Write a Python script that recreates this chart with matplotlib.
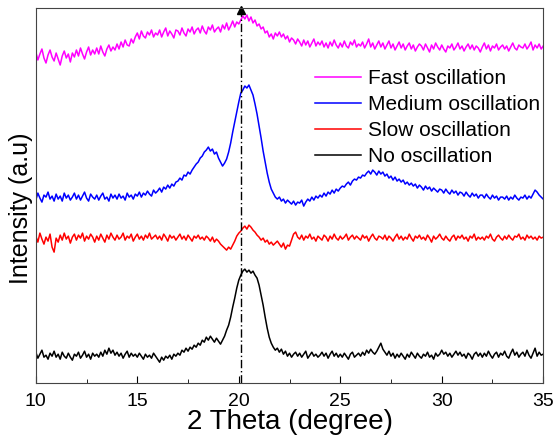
import numpy as np
import matplotlib
matplotlib.use('Agg')
import matplotlib.pyplot as plt
from matplotlib.ticker import MultipleLocator

plt.rcParams['font.family'] = ['Liberation Sans', 'DejaVu Sans']

# 2 theta grid (degree), 0.1 step; each row below = one degree (10.0 .. 10.9 etc.)
two_theta = np.arange(251) * 0.1 + 10.0

# intensities in arbitrary units (curves offset as in the figure)
fast = [
    331, 323, 329, 334, 325, 320, 328, 333, 326, 322,
    330, 324, 318, 327, 332, 325, 329, 321, 330, 326,
    333, 327, 335, 329, 324, 331, 336, 328, 333, 329,
    335, 329, 337, 331, 327, 334, 338, 332, 336, 333,
    339, 334, 341, 336, 343, 338, 337, 344, 340, 346,
    350, 344, 352, 347, 345, 351, 348, 353, 346, 350,
    348, 353, 346, 351, 355, 347, 352, 349, 345, 353,
    352, 348, 355, 350, 347, 354, 351, 356, 349, 353,
    355, 350, 357, 352, 349, 356, 353, 358, 351, 354,
    356, 351, 358, 354, 360, 353, 357, 362, 356, 361,
    359, 363, 367, 364, 368, 362, 366, 360, 363, 357,
    359, 354, 356, 350, 352, 346, 349, 344, 350, 347,
    351, 346, 349, 344, 347, 341, 345, 343, 339, 344,
    341, 337, 343, 338, 342, 336, 340, 344, 337, 341,
    338, 342, 336, 340, 335, 341, 337, 343, 338, 335,
    340, 336, 342, 337, 335, 341, 338, 343, 336, 339,
    337, 341, 335, 339, 344, 336, 340, 334, 338, 342,
    336, 340, 334, 338, 342, 335, 339, 333, 337, 341,
    335, 339, 333, 337, 340, 334, 338, 332, 336, 339,
    337, 333, 339, 335, 331, 338, 334, 340, 336, 333,
    338, 334, 331, 337, 335, 339, 333, 336, 340, 334,
    337, 332, 336, 339, 334, 338, 333, 337, 335, 331,
    336, 340, 334, 338, 332, 337, 335, 339, 333, 336,
    338, 334, 337, 332, 336, 340, 335, 333, 338, 336,
    335, 339, 334, 337, 341, 333, 338, 335, 339, 334,
    337]

medium = [
    183, 190, 185, 181, 188, 186, 191, 184, 187, 182,
    189, 184, 187, 182, 190, 185, 188, 183, 186, 190,
    184, 188, 183, 187, 191, 185, 182, 189, 186, 184,
    188, 183, 187, 190, 184, 186, 182, 189, 185, 188,
    184, 189, 185, 187, 183, 190, 186, 188, 184, 189,
    187, 191, 186, 190, 188, 192, 189, 187, 193, 190,
    192, 195, 191, 196, 194, 198, 195, 199, 197, 201,
    202, 205, 203, 208, 207, 211, 209, 213, 216, 219,
    221, 225, 227, 231, 233, 236, 232, 234, 229, 231,
    225, 221, 217, 220, 224, 231, 240, 251, 261, 271,
    281, 290, 293, 297, 295, 298, 293, 288, 279, 269,
    257, 245, 232, 221, 210, 201, 194, 190, 186, 184,
    186, 182, 184, 180, 183, 181, 179, 182, 178, 181,
    180, 183, 177, 181, 184, 182, 186, 183, 187, 185,
    188, 186, 190, 187, 191, 189, 193, 190, 194, 192,
    195, 197, 196, 199, 201, 198, 202, 204, 203, 206,
    205, 208, 207, 210, 212, 209, 213, 211, 208, 212,
    209, 211, 207, 209, 205, 207, 203, 206, 202, 204,
    201, 203, 199, 201, 198, 200, 197, 199, 195, 198,
    196, 193, 197, 194, 196, 192, 195, 193, 191, 194,
    193, 190, 194, 191, 189, 193, 190, 192, 188, 191,
    190, 187, 191, 188, 186, 190, 187, 189, 185, 188,
    188, 185, 189, 186, 184, 188, 185, 187, 183, 186,
    186, 184, 187, 183, 186, 184, 188, 185, 183, 186,
    185, 188, 184, 187, 185, 189, 193, 191, 188, 186,
    184]

slow = [
    147, 141, 150, 144, 139, 146, 142, 149, 136, 131,
    145, 141, 148, 143, 150, 144, 147, 140, 146, 149,
    143, 148, 145, 150, 142, 147, 144, 149, 146, 141,
    147, 143, 149, 145, 141, 148, 144, 150, 146, 143,
    148, 144, 146, 150, 143, 147, 145, 149, 142, 146,
    149, 144, 147, 143, 148, 145, 150, 144, 146, 148,
    144, 147, 143, 149, 146, 142, 148, 145, 147, 143,
    146, 149, 144, 147, 143, 148, 145, 142, 147, 145,
    148, 144, 146, 143, 147, 145, 142, 146, 141, 144,
    142, 139, 137, 135, 133, 136, 134, 138, 142, 147,
    150, 152, 155, 157, 154, 158, 156, 153, 151, 148,
    146, 143, 145, 141, 143, 139, 141, 138, 140, 142,
    139, 136, 140, 134, 138, 137, 143, 149, 151, 146,
    144, 148, 143, 147, 145, 149, 144, 146, 142, 147,
    145, 143, 148, 146, 142, 147, 144, 149, 145, 143,
    147, 144, 146, 149, 143, 146, 148, 144, 147, 145,
    143, 148, 145, 147, 142, 146, 149, 145, 143, 147,
    146, 144, 148, 143, 147, 145, 142, 146, 149, 144,
    147, 143, 146, 144, 149, 145, 142, 147, 145, 148,
    144, 146, 143, 148, 145, 141, 147, 144, 146, 149,
    145, 143, 147, 144, 142, 146, 148, 143, 147, 145,
    148, 144, 146, 142, 147, 145, 149, 143, 146, 144,
    146, 143, 147, 145, 149, 144, 142, 146, 148, 145,
    143, 147, 144, 148, 145, 143, 147, 146, 149, 144,
    146, 143, 148, 145, 147, 144, 146, 143, 147, 145,
    146]

none = [
    31, 25, 29, 33, 26, 28, 24, 30, 27, 32,
    26, 29, 24, 31, 27, 25, 30, 26, 23, 29,
    27, 31, 25, 28, 32, 26, 29, 24, 30, 27,
    29, 26, 31, 27, 33, 29, 35, 30, 33, 28,
    31, 27, 30, 25, 29, 32, 26, 30, 27, 29,
    26, 30, 27, 24, 29, 26, 28, 25, 30, 27,
    24, 21, 26, 23, 27, 25, 28, 24, 29, 27,
    30, 28, 33, 31, 35, 32, 36, 34, 38, 36,
    40, 38, 43, 41, 46, 43, 47, 44, 41, 45,
    42, 39, 43, 47, 53, 58, 66, 76, 85, 95,
    103, 108, 112, 114, 111, 113, 110, 112, 108, 105,
    98, 88, 78, 66, 55, 46, 40, 36, 33, 35,
    31, 34, 29, 32, 27, 30, 26, 29, 31, 27,
    30, 26, 29, 32, 25, 28, 31, 27, 29, 26,
    28, 31, 27, 30, 25, 29, 32, 27, 30, 26,
    29, 26, 30, 27, 24, 29, 31, 26, 28, 30,
    27, 31, 28, 33, 30, 34, 31, 29, 32, 36,
    40, 34, 31, 28, 32, 27, 30, 25, 29, 26,
    30, 27, 24, 29, 26, 31, 28, 25, 30, 27,
    25, 29, 27, 31, 26, 28, 24, 30, 27, 29,
    33, 29, 31, 27, 30, 26, 29, 32, 28, 31,
    27, 29, 25, 30, 28, 24, 29, 31, 27, 30,
    26, 30, 27, 32, 28, 25, 29, 31, 26, 30,
    28, 32, 27, 25, 30, 34, 28, 31, 26, 29,
    31, 27, 33, 28, 25, 30, 35, 27, 31, 28,
    29]

labels = ["Fast oscillation", "Medium oscillation", "Slow oscillation", "No oscillation"]
colors = ["#ff00ff", "#0000ff", "#ff0000", "#000000"]
ref_peak = 20.1

fig = plt.figure(figsize=(5.6, 4.43), dpi=100)
ax = fig.add_axes([0.064, 0.135, 0.906, 0.847])

for ys, lab, c in zip([fast, medium, slow, none], labels, colors):
    ax.plot(two_theta, ys, color=c, lw=1.1, label=lab)

# reference line through the main peak
ax.axvline(ref_peak, color='black', lw=1.0, ls=(0, (6, 2, 1, 2)))
ax.plot([ref_peak], [373], marker='^', color='black', ms=6, clip_on=False)

ax.set_xlim(10, 35)
ax.set_ylim(0, 375)
ax.xaxis.set_major_locator(MultipleLocator(5))
ax.xaxis.set_minor_locator(MultipleLocator(2.5))
ax.tick_params(axis='x', which='both', direction='in', top=False, labelsize=14, pad=7)
ax.tick_params(axis='x', which='major', length=5)
ax.tick_params(axis='x', which='minor', length=3)
ax.set_yticks([])
for s in ax.spines.values():
    s.set_color('#444444')

ax.set_xlabel("2 Theta (degree)", fontsize=20, labelpad=-1)
ax.set_ylabel("Intensity (a.u)", fontsize=18)
ax.yaxis.set_label_coords(-0.006, 0.467)

ax.legend(loc='upper left', bbox_to_anchor=(0.55, 0.837), frameon=False, fontsize=15,
          handlelength=2.2, labelspacing=0.34, handletextpad=0.35, borderaxespad=0, borderpad=0)

fig.savefig("out.png", dpi=100)
